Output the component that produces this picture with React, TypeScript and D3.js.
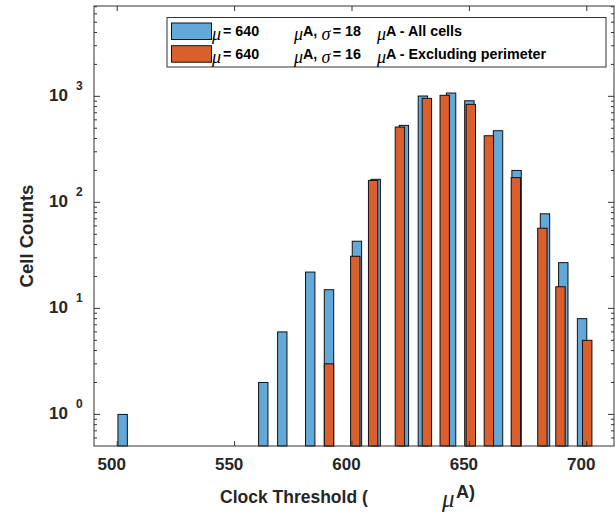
import React from "react";
import * as d3 from "d3";

const xTicks = [500, 550, 600, 650, 700];
const yTickExps = [0, 1, 2, 3];

const blueX = [502.3, 562.2, 570.3, 582.2, 590.2, 602.1, 610.1, 622.1, 630.2, 642.2, 650.0, 662.2, 670.1, 682.2, 690.0, 698.0];
const blueCounts = [1, 2, 6, 22, 15, 43, 165, 532, 1007, 1074, 908, 474, 200, 78, 27, 8];
const orangeX = [590.2, 601.4, 609.0, 620.4, 631.9, 639.5, 650.6, 658.3, 669.8, 681.1, 688.8, 700.2];
const orangeCounts = [3, 31, 161, 513, 957, 1022, 840, 425, 171, 57, 16, 5];

const binWidth = 4;
const BLUE = "#62A9DA";
const ORANGE = "#DA5F2C";
const AX = "#333333";
const SANS = "Liberation Sans, Arial, Helvetica, sans-serif";
const SERIF = "Liberation Serif, Times New Roman, serif";

export default function App() {
  const W = 615, H = 516;
  const L = 94, R = 614, T = 6, B = 446;
  const x = d3.scaleLinear().domain([490.1, 711.6]).range([L, R]);
  const y = d3.scaleLog().domain([Math.pow(10, -0.298), Math.pow(10, 3.852)]).range([B, T]);

  const minor: number[] = [];
  for (let e = -1; e <= 3; e++) {
    for (let m = 2; m <= 9; m++) {
      const v = m * Math.pow(10, e);
      if (v > y.domain()[0] && v < y.domain()[1]) minor.push(v);
    }
  }

  const bars = (xs: number[], cs: number[], color: string, key: string) =>
    xs.map((c, i) => {
      const x0 = x(c - binWidth / 2);
      const x1 = x(c + binWidth / 2);
      const yt = y(cs[i]);
      return (
        <rect key={key + i} x={x0} y={yt} width={x1 - x0} height={B - yt}
          fill={color} stroke="#111" strokeWidth={1} />
      );
    });

  const mu = (xx: number, yb: number, ch = "μ") => (
    <text x={xx} y={yb + 4} fontFamily={SERIF} fontStyle="italic" fontSize={18} fill="#000">{ch}</text>
  );

  const legendRow = (yb: number, color: string, sigma: string, label: string) => (
    <g>
      <rect x={171.5} y={yb - 13} width={40} height={16.5} fill={color} stroke="#111" strokeWidth={1} />
      {mu(212, yb)}
      <text x={223} y={yb} fontFamily={SANS} fontWeight="bold" fontSize={14.3} fill="#000">= 640</text>
      {mu(294, yb)}
      <text x={303} y={yb} fontFamily={SANS} fontWeight="bold" fontSize={14.3} fill="#000">A,</text>
      {mu(321.5, yb, "σ")}
      <text x={332.7} y={yb} fontFamily={SANS} fontWeight="bold" fontSize={14.3} fill="#000">{"= " + sigma}</text>
      {mu(377, yb)}
      <text x={386} y={yb} fontFamily={SANS} fontWeight="bold" fontSize={14.3} fill="#000">{"A - " + label}</text>
    </g>
  );

  return (
    <svg width={W} height={H} style={{ position: "absolute", left: 0, top: 0, background: "#fff" }}>
      <rect x={0} y={0} width={W} height={H} fill="#fff" />
      {bars(blueX, blueCounts, BLUE, "b")}
      {bars(orangeX, orangeCounts, ORANGE, "o")}

      {/* frame */}
      <rect x={L} y={T} width={R - L} height={B - T} fill="none" stroke={AX} strokeWidth={1} />

      {/* x ticks */}
      {xTicks.map((t) => (
        <g key={"xt" + t}>
          <line x1={x(t)} x2={x(t)} y1={B} y2={B - 5} stroke={AX} />
          <line x1={x(t)} x2={x(t)} y1={T} y2={T + 5} stroke={AX} />
          <text x={x(t) - 5.5} y={470} textAnchor="middle" fontFamily={SANS} fontWeight="bold" fontSize={17} fill="#262626">{t}</text>
        </g>
      ))}

      {/* y ticks */}
      {yTickExps.map((e) => {
        const v = Math.pow(10, e);
        const yy = y(v);
        return (
          <g key={"yt" + e}>
            <line x1={L} x2={L + 6} y1={yy} y2={yy} stroke={AX} />
            <line x1={R} x2={R - 6} y1={yy} y2={yy} stroke={AX} />
            <text x={68} y={yy + 5} textAnchor="end" fontFamily={SANS} fontWeight="bold" fontSize={17} fill="#262626">10</text>
            <text x={76} y={yy - 6} fontFamily={SANS} fontWeight="bold" fontSize={12} fill="#262626">{e}</text>
          </g>
        );
      })}
      {minor.map((v, i) => (
        <g key={"mn" + i}>
          <line x1={L} x2={L + 3} y1={y(v)} y2={y(v)} stroke={AX} />
          <line x1={R} x2={R - 3} y1={y(v)} y2={y(v)} stroke={AX} />
        </g>
      ))}

      {/* axis titles */}
      <text x={220} y={503} fontFamily={SANS} fontWeight="bold" fontSize={17.5} fill="#262626">Clock Threshold (</text>
      <text x={442} y={507} fontFamily={SERIF} fontStyle="italic" fontSize={25} fill="#262626">μ</text>
      <text x={456} y={498} fontFamily={SANS} fontWeight="bold" fontSize={18} fill="#262626">A)</text>
      <text transform="translate(33,236) rotate(-90)" textAnchor="middle" fontFamily={SANS} fontWeight="bold" fontSize={18.5} fill="#262626">Cell Counts</text>

      {/* legend */}
      <rect x={167} y={17.5} width={439} height={49.5} fill="#fff" stroke={AX} strokeWidth={1} />
      {legendRow(36, BLUE, "18", "All cells")}
      {legendRow(58.7, ORANGE, "16", "Excluding perimeter")}
    </svg>
  );
}
